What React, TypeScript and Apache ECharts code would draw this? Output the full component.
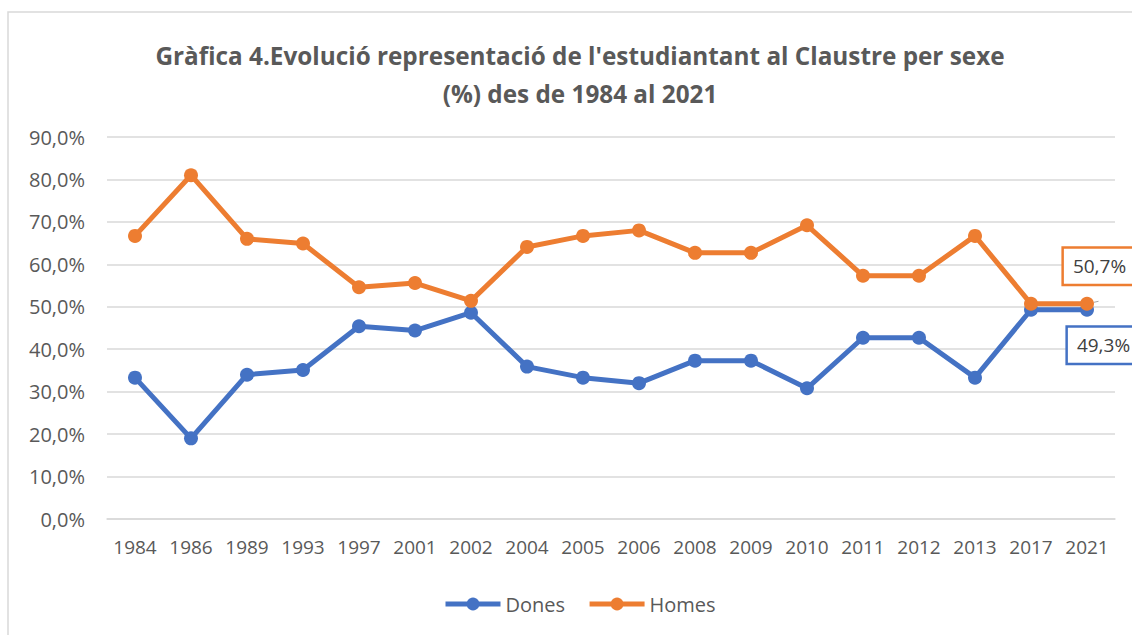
import React, { useEffect, useRef } from "react";
import * as echarts from "echarts";

const years = ["1984", "1986", "1989", "1993", "1997", "2001", "2002", "2004", "2005", "2006", "2008", "2009", "2010", "2011", "2012", "2013", "2017", "2021"];
const homes = [66.7, 81.0, 66.0, 64.9, 54.6, 55.6, 51.4, 64.1, 66.7, 68.0, 62.7, 62.7, 69.2, 57.3, 57.3, 66.7, 50.7, 50.7];
const dones = [33.3, 19.0, 34.0, 35.1, 45.4, 44.4, 48.6, 35.9, 33.3, 32.0, 37.3, 37.3, 30.8, 42.7, 42.7, 33.3, 49.3, 49.3];
const titleText = "Gràfica 4.Evolució representació de l'estudiantant al Claustre per sexe\n(%) des de 1984 al 2021";

const BLUE = "#4472C4";
const ORANGE = "#ED7D31";
const TXT = "#595959";
const FONT = "'Open Sans', sans-serif";

function fmt(v: number) {
  return v.toFixed(1).replace(".", ",") + "%";
}

export default function App() {
  const ref = useRef<HTMLDivElement>(null);
  useEffect(() => {
    const chart = echarts.init(ref.current!, null, { renderer: "svg" });
    const lastIdx = years.length - 1;
    const mkData = (arr: number[], color: string, up: boolean) =>
      arr.map((v, i) =>
        i === lastIdx
          ? {
              value: v,
              label: {
                show: true,
                formatter: (p: any) => fmt(p.value),
                position: up ? "top" : "bottom",
                offset: up ? [14, -8] : [18, 6],
                color: "#404040",
                fontSize: 19,
                fontFamily: FONT,
                backgroundColor: "#fff",
                borderColor: color,
                borderWidth: 2.5,
                padding: [8, 12, 8, 9],
              },
            }
          : v
      );
    chart.setOption({
      animation: false,
      backgroundColor: "#fff",
      title: {
        text: titleText,
        left: 575,
        textAlign: "center",
        top: 31,
        textStyle: { fontFamily: FONT, fontSize: 24.3, fontWeight: "bold", color: TXT, lineHeight: 38 },
      },
      graphic: [
        {
          type: "rect",
          shape: { x: 8, y: 12, width: 1140, height: 640 },
          style: { fill: "none", stroke: "#d9d9d9", lineWidth: 1.5 },
          silent: true,
        },
      ],
      legend: {
        bottom: 16,
        left: 438,
        itemWidth: 55,
        itemHeight: 16,
        itemGap: 22,
        lineStyle: { width: 5 },
        textStyle: { fontFamily: FONT, fontSize: 20, color: TXT },
        data: ["Dones", "Homes"],
      },
      grid: { left: 107, right: 17, top: 137, bottom: 116 },
      xAxis: {
        type: "category",
        data: years,
        boundaryGap: true,
        axisLine: { show: true, lineStyle: { color: "#d9d9d9", width: 1.5 } },
        axisTick: { show: false },
        axisLabel: { fontFamily: FONT, fontSize: 19, color: TXT, margin: 18, interval: 0 },
      },
      yAxis: {
        type: "value",
        min: 0,
        max: 90,
        interval: 10,
        axisLine: { show: false },
        axisTick: { show: false },
        splitLine: { lineStyle: { color: "#d9d9d9", width: 1.5 } },
        axisLabel: { fontFamily: FONT, fontSize: 20, color: TXT, margin: 22, formatter: (v: number) => fmt(v) },
      },
      series: [
        {
          name: "Dones",
          type: "line",
          data: mkData(dones, BLUE, false),
          color: BLUE,
          symbol: "circle",
          symbolSize: 14,
          lineStyle: { width: 5, color: BLUE },
          itemStyle: { color: BLUE },
          z: 2,
        },
        {
          name: "Homes",
          type: "line",
          data: mkData(homes, ORANGE, true),
          color: ORANGE,
          symbol: "circle",
          symbolSize: 14,
          lineStyle: { width: 5, color: ORANGE },
          itemStyle: { color: ORANGE },
          labelLine: { show: true, lineStyle: { color: "#a6a6a6", width: 1 } },
          z: 3,
        },
      ],
    });
    return () => chart.dispose();
  }, []);
  return (
    <div
      ref={ref}
      style={{ position: "fixed", left: 0, top: 0, width: 1132, height: 635 }}
    />
  );
}
